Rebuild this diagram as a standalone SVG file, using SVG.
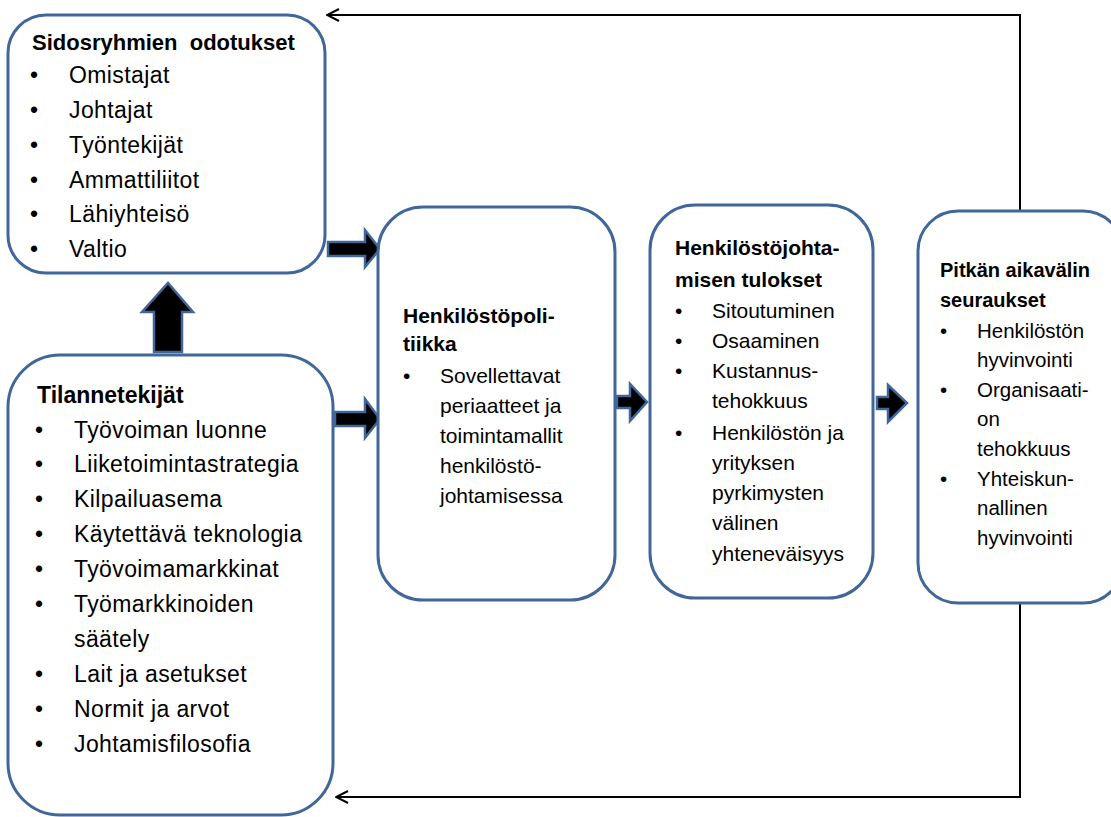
<svg xmlns="http://www.w3.org/2000/svg" width="1111" height="817" viewBox="0 0 1111 817">
<defs>
<style>
.box{fill:#fff;stroke:#41679a;stroke-width:3}
.blk{fill:#000;stroke:#41679a;stroke-width:2.5;stroke-linejoin:miter}
.fb{fill:none;stroke:#000;stroke-width:2}
text{font-family:"Liberation Sans",Arial,sans-serif;fill:#000}
.t1{font-size:22px;font-weight:bold;white-space:pre}
.i1{font-size:23px;letter-spacing:0.4px}
.t2{font-size:21px;font-weight:bold}
.i2{font-size:21px}
.t3{font-size:20px;font-weight:bold}
.i3{font-size:20.5px}
</style>
<marker id="open" viewBox="0 0 14 14" refX="13" refY="7" markerWidth="14" markerHeight="14" markerUnits="userSpaceOnUse" orient="auto">
<path d="M1,1 L13,7 L1,13" fill="none" stroke="#000" stroke-width="2"/>
</marker>
</defs>
<g id="connectors">
<path class="fb" d="M1020,211 V15 H327" marker-end="url(#open)"/>
<path class="fb" d="M1020,603 V797 H336" marker-end="url(#open)"/>
<path id="arr-up" class="blk" d="M154,352 V312 H142 L168,283 L193,312 H182 V352 Z"/>
<path id="arr-a" class="blk" d="M328,242 H365 V230 L380,249 L365,267 V256 H328 Z"/>
<path id="arr-b" class="blk" d="M335,412 H365 V399 L380,419 L365,438 V426 H335 Z"/>
<path id="arr-c" class="blk" d="M617,396 H630 V384 L647,402 L630,421 V408 H617 Z"/>
<path id="arr-d" class="blk" d="M877,397 H888 V385 L907,403 L888,422 V409 H877 Z"/>
</g>
<g id="sidosryhmat">
<rect class="box" x="8" y="15" width="317" height="258" rx="38"/>
<text class="t1" x="32" y="50">Sidosryhmien  odotukset</text>
<g class="i1">
<text x="30" y="83">•</text><text x="69" y="83">Omistajat</text>
<text x="30" y="118">•</text><text x="69" y="118">Johtajat</text>
<text x="30" y="153">•</text><text x="69" y="153">Työntekijät</text>
<text x="30" y="188">•</text><text x="69" y="188">Ammattiliitot</text>
<text x="30" y="222">•</text><text x="69" y="222">Lähiyhteisö</text>
<text x="30" y="257">•</text><text x="69" y="257">Valtio</text>
</g>
</g>
<g id="tilannetekijat">
<rect class="box" x="8" y="355" width="325" height="460" rx="52"/>
<text class="t1" x="37" y="403" style="font-size:23px">Tilannetekijät</text>
<g class="i1">
<text x="35" y="438">•</text><text x="74" y="438">Työvoiman luonne</text>
<text x="35" y="472">•</text><text x="74" y="472">Liiketoimintastrategia</text>
<text x="35" y="507">•</text><text x="74" y="507">Kilpailuasema</text>
<text x="35" y="542">•</text><text x="74" y="542">Käytettävä teknologia</text>
<text x="35" y="577">•</text><text x="74" y="577">Työvoimamarkkinat</text>
<text x="35" y="612">•</text><text x="74" y="612">Työmarkkinoiden</text>
<text x="74" y="647">säätely</text>
<text x="35" y="682">•</text><text x="74" y="682">Lait ja asetukset</text>
<text x="35" y="717">•</text><text x="74" y="717">Normit ja arvot</text>
<text x="35" y="752">•</text><text x="74" y="752">Johtamisfilosofia</text>
</g>
</g>
<g id="henkilostopolitiikka">
<rect class="box" x="378" y="207" width="237" height="393" rx="45"/>
<text class="t2" x="403" y="323">Henkilöstöpoli-</text>
<text class="t2" x="403" y="351">tiikka</text>
<g class="i2">
<text x="403" y="383">•</text><text x="440" y="383">Sovellettavat</text>
<text x="440" y="413">periaatteet ja</text>
<text x="440" y="443">toimintamallit</text>
<text x="440" y="473">henkilöstö-</text>
<text x="440" y="503">johtamisessa</text>
</g>
</g>
<g id="tulokset">
<rect class="box" x="650" y="205" width="223" height="393" rx="45"/>
<text class="t2" x="675" y="255">Henkilöstöjohta-</text>
<text class="t2" x="675" y="287">misen tulokset</text>
<g class="i2">
<text x="675" y="318">•</text><text x="712" y="318">Sitoutuminen</text>
<text x="675" y="348">•</text><text x="712" y="348">Osaaminen</text>
<text x="675" y="378">•</text><text x="712" y="378">Kustannus-</text>
<text x="712" y="408">tehokkuus</text>
<text x="675" y="440">•</text><text x="712" y="440">Henkilöstön ja</text>
<text x="712" y="470">yrityksen</text>
<text x="712" y="500">pyrkimysten</text>
<text x="712" y="530">välinen</text>
<text x="712" y="561">yhteneväisyys</text>
</g>
</g>
<g id="seuraukset">
<rect class="box" x="918" y="211" width="205" height="392" rx="40"/>
<text class="t3" x="940" y="277">Pitkän aikavälin</text>
<text class="t3" x="940" y="307">seuraukset</text>
<g class="i3">
<text x="940" y="338">•</text><text x="977" y="338">Henkilöstön</text>
<text x="977" y="367">hyvinvointi</text>
<text x="940" y="397">•</text><text x="977" y="397">Organisaati-</text>
<text x="977" y="426">on</text>
<text x="977" y="456">tehokkuus</text>
<text x="940" y="486">•</text><text x="977" y="486">Yhteiskun-</text>
<text x="977" y="515">nallinen</text>
<text x="977" y="545">hyvinvointi</text>
</g>
</g>
</svg>
